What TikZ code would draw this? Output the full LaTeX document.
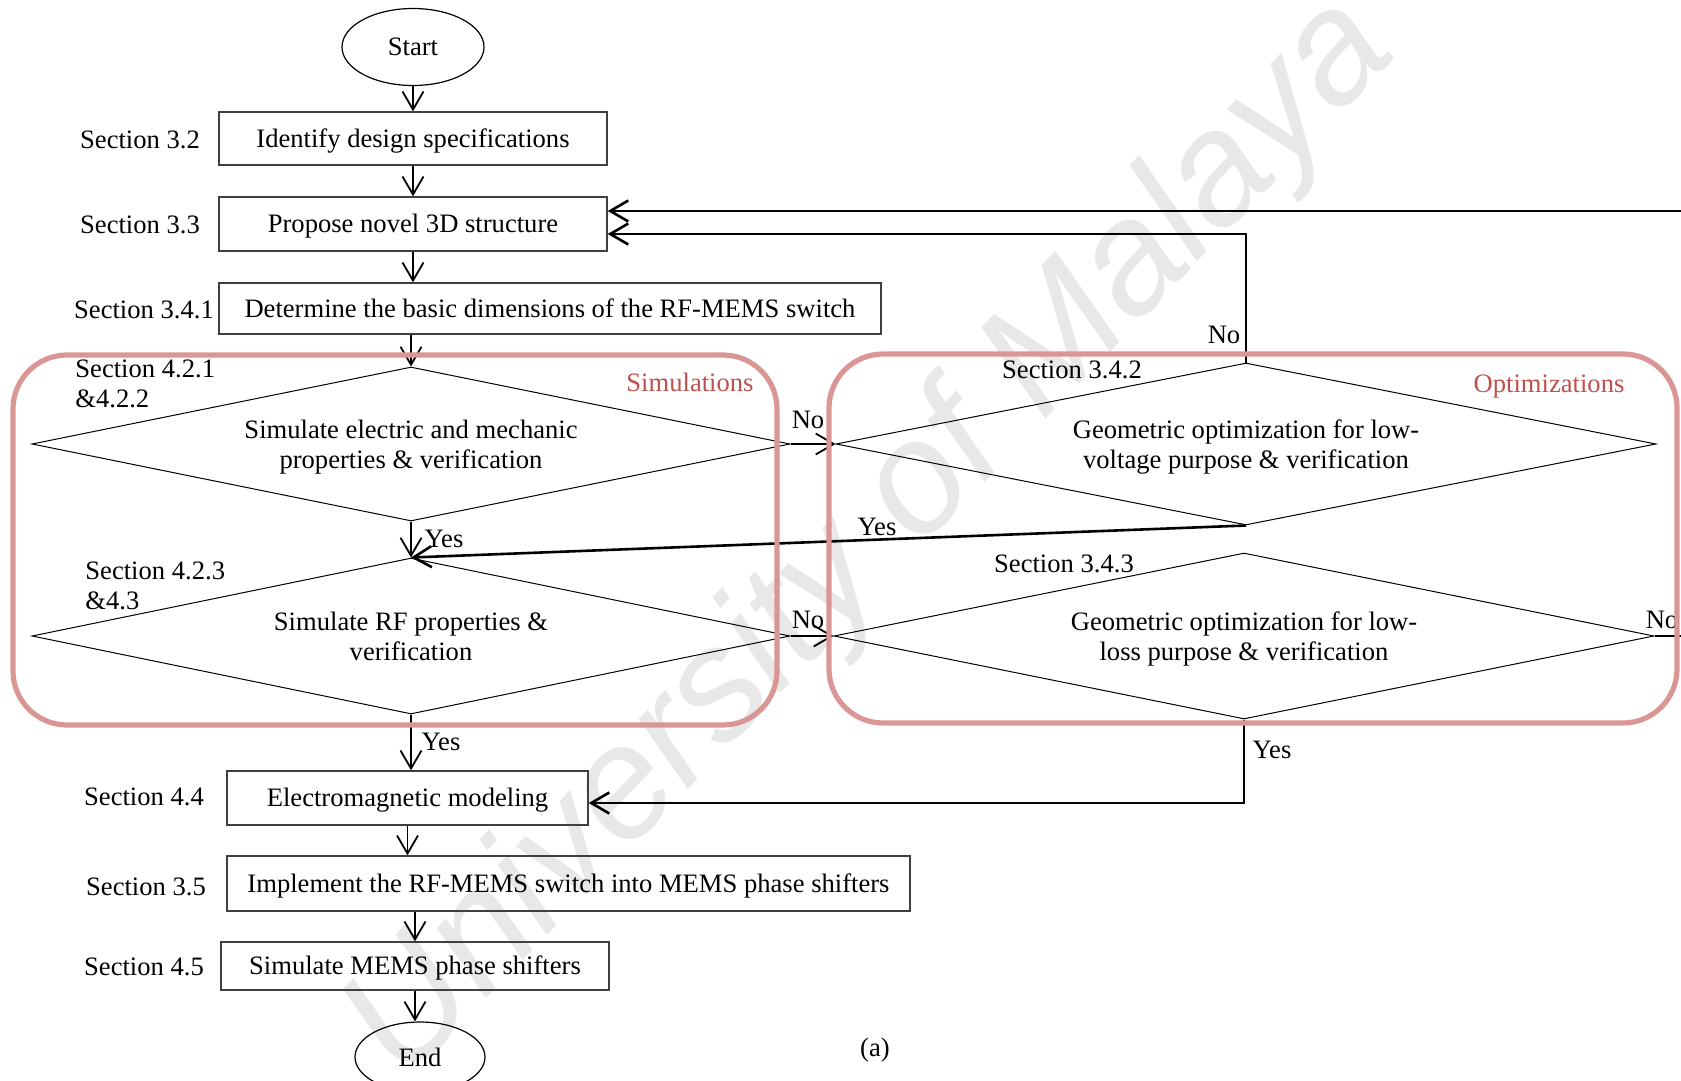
\documentclass[tikz,border=0pt]{standalone}
\usepackage{fontspec}
\setmainfont{Liberation Serif}
\newfontfamily\wmfont{Liberation Sans}
\usetikzlibrary{arrows.meta,shapes.geometric}
\definecolor{grpline}{HTML}{D99694}
\definecolor{grptext}{HTML}{C0504D}

\begin{document}
\begin{tikzpicture}[x=0.5pt,y=-0.5pt,
  txt/.style={font=\fontsize{13.3pt}{15pt}\selectfont, inner sep=0pt},
  procbox/.style={txt, draw=black!75, line width=0.7pt, rectangle,
                  text height=8.6pt, text depth=0pt},
  term/.style={txt, draw, ellipse, line width=0.6pt},
  decision/.style={txt, draw, diamond, line width=0.5pt, align=center},
  group/.style={draw=grpline, line width=2.6pt, rounded corners=27pt},
  grouptitle/.style={txt, text=grptext},
  flow/.style={line width=0.9pt, -{Straight Barb[length=9pt,width=10.5pt]}},
  loop/.style={line width=1.3pt, -{Straight Barb[length=9pt,width=10.5pt]}},
  wire/.style={line width=0.6pt},
]
\useasboundingbox (0,0) rectangle (1681,1081);
\clip (0,0) rectangle (1681,1081);

% background watermark
\node[rotate=46, text=black!9, inner sep=0pt,
      font=\wmfont\itshape\fontsize{79.5pt}{80pt}\selectfont] (wm) at (872,540) {University of Malaya};

% main column
\node[term, minimum width=71pt, minimum height=38.5pt] (start) at (413,47) {Start};
\node[procbox, minimum width=194pt, minimum height=26.5pt] (b1) at (413,138.5) {Identify design specifications};
\node[procbox, minimum width=194pt, minimum height=27pt] (b2) at (413,224) {Propose novel 3D structure};
\node[procbox, minimum width=331pt, minimum height=25.5pt] (b3) at (550,308.5) {Determine the basic dimensions of the RF-MEMS switch};

\node[decision, shape aspect=4.9, minimum width=379pt, minimum height=77pt] (d1) at (411,444)
  {Simulate electric and mechanic\\\smash{properties \& verification}};
\node[decision, shape aspect=4.9, minimum width=379pt, minimum height=78pt] (d2) at (411,636)
  {Simulate RF properties \&\\\smash{verification}};
\node[decision, shape aspect=5.1, minimum width=410pt, minimum height=81pt] (d3) at (1246,444)
  {Geometric optimization for low-\\\smash{voltage purpose \& verification}};
\node[decision, shape aspect=4.9, minimum width=410pt, minimum height=83pt] (d4) at (1244,636)
  {Geometric optimization for low-\\\smash{loss purpose \& verification}};

\node[procbox, minimum width=180.5pt, minimum height=27pt] (b4) at (407.5,798) {Electromagnetic modeling};
\node[procbox, minimum width=341.5pt, minimum height=27.5pt] (b5) at (568.5,883.5) {Implement the RF-MEMS switch into MEMS phase shifters};
\node[procbox, minimum width=194pt, minimum height=24pt] (b6) at (415,966) {Simulate MEMS phase shifters};
\node[term, minimum width=65pt, minimum height=35pt] (end) at (420,1057) {End};

% section references
\node[txt] (s32) at (140,140) {Section 3.2};
\node[txt] (s33) at (140,225) {Section 3.3};
\node[txt] (s341) at (144,310) {Section 3.4.1};
\node[txt, anchor=north west, align=left] (s421) at (75,359) {Section 4.2.1\\\&4.2.2};
\node[txt, anchor=north west, align=left] (s423) at (85,561) {Section 4.2.3\\\&4.3};
\node[txt] (s342) at (1072,370) {Section 3.4.2};
\node[txt] (s343) at (1064,564) {Section 3.4.3};
\node[txt] (s44) at (144,797) {Section 4.4};
\node[txt] (s35) at (146,887) {Section 3.5};
\node[txt] (s45) at (144,967) {Section 4.5};

% branch labels
\node[txt] (y1) at (444,539) {Yes};
\node[txt] (y2) at (877,527) {Yes};
\node[txt] (y3) at (441,742) {Yes};
\node[txt] (y4) at (1272,750) {Yes};
\node[txt] (n1) at (808,420) {No};
\node[txt] (n2) at (808,620) {No};
\node[txt] (n3) at (1224,335) {No};
\node[txt] (n4) at (1662,620) {No};
\node[txt] (cap) at (875,1050) {(a)};

% forward flow
\draw[flow] (start) -- (b1);
\draw[flow] (b1) -- (b2);
\draw[flow] (b2.south) -- (b2.south |- b3.north);
\draw[flow] (d1.north |- b3.south) -- (d1.north);
\draw[flow] (d1) -- (d2);
\draw[flow] (d2.south) -- (d2.south |- b4.north);
\draw[flow] (b4.south) -- (b4.south |- b5.north);
\draw[flow] (b6.north |- b5.south) -- (b6.north);
\draw[flow] (b6.south) -- (b6.south |- end.north);
\draw[flow] (d1.east) -- (d3.west);
\draw[flow] (d2.east) -- (d4.west);

% feedback paths
\coordinate (lowIn) at ([yshift=-5pt]b2.east);
\coordinate (highIn) at ([yshift=6.5pt]b2.east);
\coordinate (emIn) at ([yshift=-2.5pt]b4.east);
\draw[wire] (d3.north) -- (d3.north |- lowIn);
\draw[loop, shorten <=-0.6pt] (d3.north |- lowIn) -- (lowIn);
\draw[wire] (d4.east) -- ++(120,0) coordinate (offR);
\draw[loop] (offR |- highIn) -- (highIn);
\draw[loop] (d3.south) -- (d2.north);
\draw[wire] (d4.south) -- (d4.south |- emIn);
\draw[loop, shorten <=-0.6pt] (d4.south |- emIn) -- (emIn);

% group frames
\draw[group] (13,355) rectangle (777,725);
\draw[group] (829,354) rectangle (1677,723);
\node[grouptitle] (simT) at (690,382) {Simulations};
\node[grouptitle] (optT) at (1549,387) {Optimizations};
\end{tikzpicture}
\end{document}
